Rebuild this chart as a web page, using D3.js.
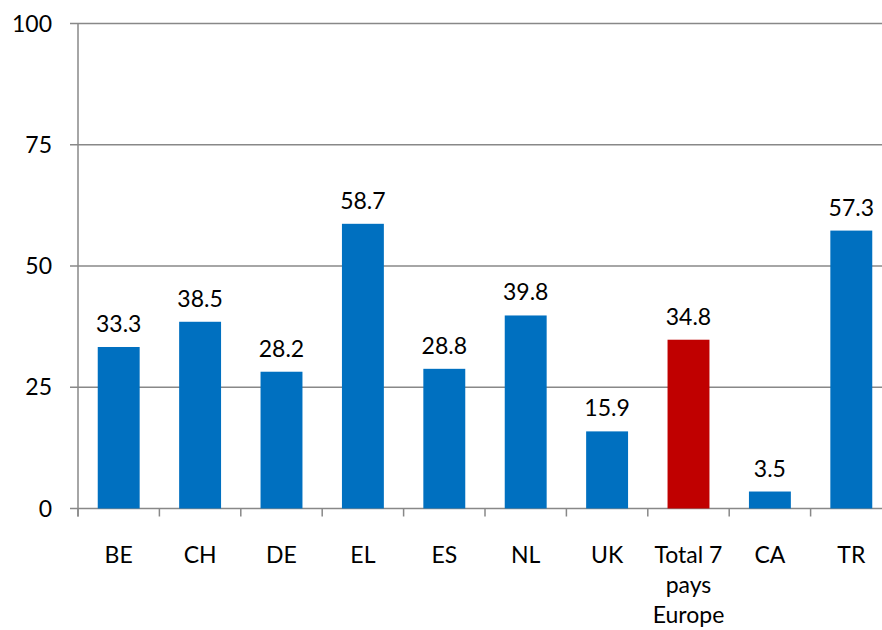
<!DOCTYPE html>
<html>
<head>
<meta charset="utf-8">
<script src="https://cdn.jsdelivr.net/npm/d3@7"></script>
<style>
  body { margin: 0; background: #fff; }
  svg text { font-family: Lato, "Open Sans", sans-serif; fill: #000; }
</style>
</head>
<body>
<svg id="chart" width="882" height="630"></svg>
<script>
const categories = ["BE", "CH", "DE", "EL", "ES", "NL", "UK", "Total 7\npays\nEurope", "CA", "TR"]
const values = [33.3, 38.5, 28.2, 58.7, 28.8, 39.8, 15.9, 34.8, 3.5, 57.3]
const highlight = ["Total 7\npays\nEurope"]
const yTicks = [0, 25, 50, 75, 100]

const svg = d3.select('#chart')
const margin = {left: 78, top: 23.5, bottom: 121.5}
const height = 630 - margin.top - margin.bottom
const step = 81.4

const x = d3.scaleBand()
    .domain(categories)
    .range([margin.left, margin.left + step * categories.length])
    .paddingInner(0.485)
    .paddingOuter(0.2425)

const y = d3.scaleLinear()
    .domain([0, 100])
    .range([margin.top + height, margin.top])

// gridlines
svg.append("g")
    .selectAll("line")
    .data(yTicks)
    .enter().append("line")
    .attr("x1", margin.left - 8)
    .attr("x2", 882)
    .attr("y1", d => y(d))
    .attr("y2", d => y(d))
    .attr("stroke", "#888")
    .attr("stroke-width", 1.5)

// y axis line
svg.append("line")
    .attr("x1", margin.left).attr("x2", margin.left)
    .attr("y1", y(100)).attr("y2", y(0) + 8)
    .attr("stroke", "#888").attr("stroke-width", 1.5)

// x ticks between categories
const bounds = d3.range(categories.length + 1).map(i => margin.left + i * step)
svg.append("g")
    .selectAll("line")
    .data(bounds)
    .enter().append("line")
    .attr("x1", d => d).attr("x2", d => d)
    .attr("y1", y(0)).attr("y2", y(0) + 8)
    .attr("stroke", "#888").attr("stroke-width", 1.5)

// y labels
svg.append("g")
    .selectAll("text")
    .data(yTicks)
    .enter().append("text")
    .attr("x", 52)
    .attr("y", d => y(d) + 8)
    .attr("text-anchor", "end")
    .style("font-size", "23px")
    .text(d => d)

// bars
svg.append("g")
    .selectAll("rect")
    .data(categories)
    .enter().append("rect")
    .attr("x", d => x(d))
    .attr("width", x.bandwidth())
    .attr("y", (d, i) => y(values[i]))
    .attr("height", (d, i) => y(0) - y(values[i]))
    .attr("fill", d => highlight.includes(d) ? "#c00000" : "#0070c0")

// value labels
svg.append("g")
    .selectAll("text")
    .data(categories)
    .enter().append("text")
    .attr("x", d => x(d) + x.bandwidth() / 2)
    .attr("y", (d, i) => y(values[i]) - 15)
    .attr("text-anchor", "middle")
    .style("font-size", "23px")
    .text((d, i) => values[i].toFixed(1))

// category labels
const cat = svg.append("g")
    .selectAll("text")
    .data(categories)
    .enter().append("text")
    .attr("x", d => x(d) + x.bandwidth() / 2)
    .attr("y", 563)
    .attr("text-anchor", "middle")
    .style("font-size", "23px")

cat.selectAll("tspan")
    .data(d => d.split("\n"))
    .enter().append("tspan")
    .attr("x", function () { return d3.select(this.parentNode).attr("x") })
    .attr("dy", (d, i) => i === 0 ? 0 : 30)
    .text(d => d)
</script>
</body>
</html>
